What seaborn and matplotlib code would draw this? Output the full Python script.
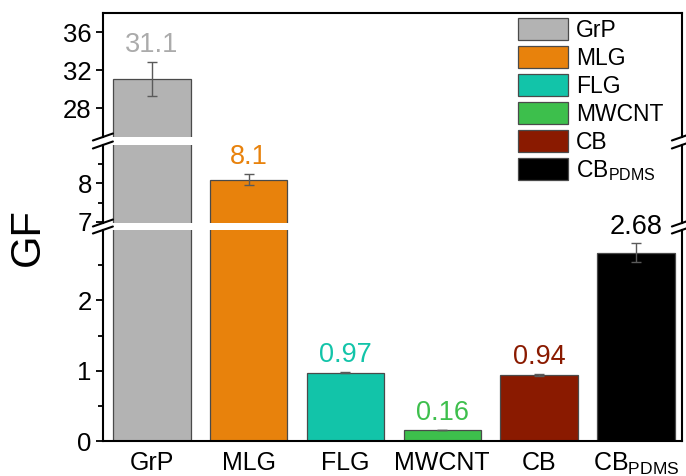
import matplotlib
matplotlib.use("Agg")
import matplotlib.pyplot as plt
from matplotlib.patches import Patch
from matplotlib.lines import Line2D
from matplotlib.ticker import FixedLocator
import pandas as pd
import seaborn as sns

# ---- data -------------------------------------------------------------
categories = ["GrP", "MLG", "FLG", "MWCNT", "CB", "CB$_{\\mathrm{PDMS}}$"]
gf_values = [31.1, 8.1, 0.97, 0.16, 0.94, 2.68]
gf_errors = [1.8, 0.15, 0.01, 0.0, 0.01, 0.13]
value_labels = ["31.1", "8.1", "0.97", "0.16", "0.94", "2.68"]
bar_colors = ["#b3b3b3", "#e8820c", "#12c4a9", "#3dbf4c", "#8a1a00", "#000000"]
label_colors = ["#ababab", "#e8820c", "#12c4a9", "#3dbf4c", "#8a1a00", "#000000"]

# broken y axis: bottom, middle and top segments
segment_limits = [(0.0, 3.0), (6.97, 9.0), (25.0, 38.0)]
segment_major = [[0, 1, 2], [7, 8], [28, 32, 36]]
segment_minor = [[0.5, 1.5, 2.5], [7.5, 8.5], []]
# segment placement in figure fractions: (bottom, height)
segment_boxes = [(0.0735, 0.4433), (0.5315, 0.1639), (0.7122, 0.2605)]
ax_left, ax_width = 0.150, 0.844

# ---- style ------------------------------------------------------------
sns.set_style("ticks")
plt.rcParams["font.family"] = ["Liberation Sans", "DejaVu Sans"]
plt.rcParams["mathtext.fontset"] = "custom"
plt.rcParams["mathtext.rm"] = "Liberation Sans"
plt.rcParams["mathtext.it"] = "Liberation Sans:italic"
plt.rcParams["mathtext.bf"] = "Liberation Sans:bold"
plt.rcParams["text.color"] = "black"
plt.rcParams["xtick.color"] = "black"
plt.rcParams["ytick.color"] = "black"
plt.rcParams["xtick.labelcolor"] = "black"
plt.rcParams["ytick.labelcolor"] = "black"

df = pd.DataFrame({"material": categories, "gf": gf_values})
palette = dict(zip(categories, bar_colors))

fig = plt.figure(figsize=(6.86, 4.76), dpi=100)
fig.patch.set_facecolor("white")

axes = []
for k, ((b, h), lim) in enumerate(zip(segment_boxes, segment_limits)):
    ax = fig.add_axes([ax_left, b, ax_width, h])
    ax.patch.set_alpha(0)
    sns.barplot(data=df, x="material", y="gf", hue="material", palette=palette,
                legend=False, errorbar=None, width=0.8, saturation=1,
                edgecolor="#4a4a4a", linewidth=0.9, ax=ax, zorder=2)
    ax.errorbar(range(len(categories)), gf_values, yerr=gf_errors, fmt="none",
                ecolor="#5a5a5a", elinewidth=1.0, capsize=3.5, capthick=1.0,
                zorder=3)
    ax.set_ylim(*lim)
    ax.set_xlim(-0.505, 5.475)
    ax.set_xlabel("")
    ax.set_ylabel("")
    ax.yaxis.set_major_locator(FixedLocator(segment_major[k]))
    ax.yaxis.set_minor_locator(FixedLocator(segment_minor[k]))
    ax.tick_params(axis="y", which="major", direction="out", length=5,
                   width=1.3, labelsize=18.5, pad=3)
    ax.tick_params(axis="y", which="minor", direction="out", length=3.5,
                   width=1.3)
    for side in ("left", "right", "top", "bottom"):
        ax.spines[side].set_linewidth(1.5)
        ax.spines[side].set_color("black")
    ax.spines["top"].set_visible(k == 2)
    ax.spines["bottom"].set_visible(k == 0)
    if k == 0:
        ax.tick_params(axis="x", length=0, labelsize=18, pad=7)
    else:
        ax.tick_params(axis="x", bottom=False, labelbottom=False)
    axes.append(ax)

# value labels above each bar, in the segment holding the bar top
for i, (v, e, txt, c) in enumerate(zip(gf_values, gf_errors, value_labels, label_colors)):
    for ax, (lo, hi) in zip(axes, segment_limits):
        if lo <= v <= hi:
            ax.annotate(txt, xy=(i, v + e), xytext=(0, 7),
                        textcoords="offset points", ha="center",
                        va="baseline", fontsize=19.5, color=c,
                        annotation_clip=False, clip_on=False, zorder=5)
            break

# break marks on both vertical spines
dx, dy = 10 / 686, 3.5 / 476
for lower, upper in zip(axes[:-1], axes[1:]):
    y_low = lower.get_position().y1
    y_up = upper.get_position().y0
    for x in (ax_left, ax_left + ax_width):
        for y in (y_low, y_up):
            fig.add_artist(Line2D([x - dx, x + dx], [y - dy, y + dy],
                                  color="black", lw=1.5,
                                  transform=fig.transFigure))

fig.text(28 / 686, 1 - 237 / 476, "GF", rotation=90, ha="center",
         va="center", fontsize=30)

handles = [Patch(facecolor=c, edgecolor="#4a4a4a", linewidth=0.9)
           for c in bar_colors]
fig.legend(handles, categories, loc="upper left",
           bbox_to_anchor=(0.755, 0.962), frameon=False, fontsize=16.5,
           handlelength=2.2, handleheight=1.1, labelspacing=0.18,
           handletextpad=0.35, borderpad=0, borderaxespad=0)

fig.savefig("out.png", dpi=100, facecolor="white")
